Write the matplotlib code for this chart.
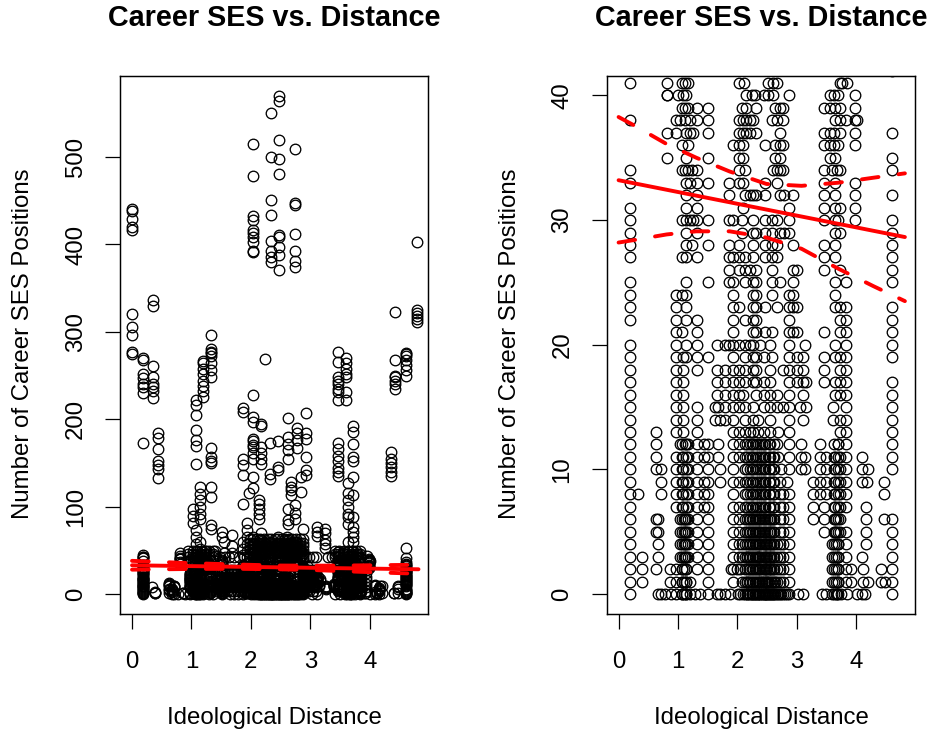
import matplotlib
matplotlib.use("Agg")
import matplotlib.pyplot as plt

plt.rcParams['font.family'] = ['Liberation Sans', 'DejaVu Sans']

# x positions of the points at each integer career-position count (y = 0 ... 41)
row_y = list(range(42))
x_y00 = [.19,.67,.71,.78,.89,.97,1.06,1.14,1.20,1.29,1.37,1.51,1.65,1.71,1.79,1.87,2.01,2.05,2.10,2.13,2.17,2.21,2.24,2.27,2.30,2.32,2.35,2.38,2.41,2.44,2.47,2.49,2.52,2.55,2.58,2.60,2.63,2.66,2.69,2.72,2.74,2.77,2.80,2.83,2.87,3.02,3.11,3.42,3.50,3.59,3.67,3.75,3.84,4.01,4.09,4.15,4.61]
x_y01 = [.19,.39,.86,.97,1.06,1.14,1.20,1.51,1.93,2.08,2.13,2.17,2.21,2.27,2.32,2.38,2.41,2.44,2.49,2.52,2.58,2.63,2.66,2.72,2.77,2.87,3.60,3.70,3.83,3.92,4.12,4.20,4.41,4.48,4.61]
x_y02 = [.19,.39,.63,.86,.97,1.06,1.14,1.32,1.51,1.90,1.93,1.99,2.05,2.13,2.21,2.27,2.32,2.38,2.44,2.49,2.55,2.60,2.66,2.72,2.77,2.87,3.60,3.70,3.83,3.92,4.12,4.41,4.61]
x_y03 = [.19,.39,.67,1.03,1.12,1.17,1.32,1.51,1.93,2.03,2.08,2.13,2.17,2.21,2.27,2.32,2.35,2.38,2.44,2.49,2.55,2.60,2.66,2.72,2.77,2.87,3.60,3.70,3.83,4.09,4.61]
x_y04 = [.19,.67,1.03,1.12,1.17,1.32,1.51,1.93,2.03,2.08,2.13,2.21,2.27,2.32,2.38,2.44,2.49,2.55,2.60,2.66,2.72,2.77,2.87,3.60,3.70,3.83,4.16,4.61]
x_y05 = [.19,.63,.67,1.03,1.12,1.17,1.32,1.51,1.93,2.03,2.13,2.21,2.27,2.32,2.38,2.44,2.55,2.60,2.72,2.77,2.87,3.46,3.64,3.73,3.83,4.16,4.61]
x_y06 = [.19,.63,.67,1.03,1.12,1.17,1.32,1.51,1.93,2.03,2.13,2.21,2.27,2.32,2.38,2.44,2.55,2.60,2.72,2.77,2.87,3.27,3.46,3.64,3.73,4.16,4.47,4.61]
x_y07 = [.19,.97,1.09,1.17,1.32,1.43,1.51,1.93,2.03,2.13,2.21,2.27,2.32,2.38,2.44,2.55,2.60,2.72,2.77,2.87,3.27,3.46,3.64,3.73,3.83,4.16]
x_y08 = [.19,.33,.71,.97,1.09,1.17,1.32,1.43,1.51,1.93,2.13,2.21,2.27,2.32,2.38,2.44,2.55,2.60,2.72,2.77,2.87,3.27,3.39,3.50,3.64,3.73,3.83,4.47]
x_y09 = [.19,.71,.97,1.09,1.17,1.32,1.43,1.51,1.71,1.93,2.03,2.13,2.21,2.27,2.32,2.38,2.44,2.55,2.60,2.72,2.83,3.27,3.39,3.50,3.64,3.73,3.83,4.09,4.18,4.47]
x_y10 = [.19,.63,.71,.97,1.09,1.17,1.32,1.51,1.71,1.93,2.13,2.21,2.27,2.32,2.38,2.44,2.55,2.60,2.74,2.87,3.07,3.14,3.39,3.50,3.64,3.73,3.83,4.09,4.20,4.61]
x_y11 = [.19,.63,.97,1.09,1.17,1.32,1.43,1.51,1.68,1.93,2.03,2.13,2.21,2.27,2.32,2.38,2.44,2.55,2.60,2.69,2.87,3.07,3.14,3.39,3.50,3.64,3.73,3.83,4.09,4.61]
x_y12 = [.19,.63,1.03,1.12,1.17,1.32,1.43,1.51,1.68,1.93,2.03,2.13,2.21,2.27,2.32,2.38,2.44,2.55,2.66,2.87,3.07,3.39,3.70,3.83,4.61]
x_y13 = [.19,.63,.97,1.09,1.32,1.93,2.03,2.13,2.21,2.27,2.35,2.44,2.55,2.69,2.87,3.73,3.83,4.61]
x_y14 = [.19,.97,1.09,1.32,1.62,1.71,1.79,1.93,2.13,2.27,2.35,2.55,2.87,3.11,3.61,3.73,3.83,4.61]
x_y15 = [.19,.97,1.09,1.32,1.62,1.68,1.79,1.93,2.03,2.13,2.27,2.44,2.55,2.66,2.77,2.87,3.05,3.16,3.61,3.83,4.61]
x_y16 = [.19,.97,1.09,1.65,1.79,1.93,2.03,2.10,2.32,2.44,2.55,2.66,2.87,3.11,3.64,3.73,3.83,4.61]
x_y17 = [.19,.97,1.09,1.65,1.79,1.93,2.03,2.13,2.27,2.32,2.44,2.55,2.87,3.01,3.11,3.16,3.46,3.64,3.73,3.83,4.61]
x_y18 = [.19,.97,1.09,1.32,1.65,1.79,1.93,2.03,2.13,2.27,2.32,2.55,2.77,2.87,3.01,3.11,3.46,3.72,3.83]
x_y19 = [.19,.97,1.09,1.14,1.32,1.51,1.93,2.13,2.27,2.32,2.44,2.58,2.87,3.01,3.11,3.46,3.64,3.73,3.83,4.61]
x_y20 = [.19,.97,1.14,1.32,1.65,1.79,1.86,1.93,2.03,2.13,2.21,2.27,2.38,2.55,2.87,3.13,3.64,3.83,4.61]
x_y21 = [.97,1.06,1.32,1.93,2.27,2.32,2.47,2.58,2.87,2.94,3.01,3.46,3.72,3.83,4.61]
x_y22 = [.19,.97,1.14,1.32,1.93,2.13,2.27,2.32,2.87,3.72,3.83,4.61]
x_y23 = [.19,.97,1.14,1.93,2.03,2.27,2.32,2.47,2.66,2.87,2.94,3.01,3.64,3.72,3.83,4.61]
x_y24 = [.19,.97,1.06,1.14,1.93,2.27,2.32,2.58,2.87,2.94,3.64]
x_y25 = [.19,1.14,1.51,1.86,1.93,2.13,2.27,2.32,2.58,2.72,2.94,3.64,3.83,4.61]
x_y26 = [1.86,2.03,2.13,2.21,2.32,2.58,2.94,3.01,3.46,3.72,4.61]
x_y27 = [.19,1.06,1.14,1.32,1.86,1.93,2.03,2.13,2.27,2.47,2.58,2.66,3.46,3.64,4.61]
x_y28 = [.19,1.14,1.23,1.51,1.86,2.03,2.27,2.47,2.58,2.66,2.94,3.46,3.64,4.61]
x_y29 = [.19,1.14,1.32,2.08,2.27,2.31,2.47,2.58,2.72,2.79,2.87,3.64,3.73,4.61]
x_y30 = [.19,1.06,1.14,1.20,1.26,1.32,1.51,1.86,1.93,2.08,2.27,2.47,2.58,2.66,2.87,3.46,3.64,3.70,3.98,4.61]
x_y31 = [.19,1.14,1.32,2.10,2.87,3.46,3.64,3.73,3.98]
x_y32 = [1.14,1.32,1.86,2.13,2.21,2.27,2.32,2.47,2.72,2.79,2.94,3.46,3.64,3.98,4.61]
x_y33 = [.19,1.14,1.20,1.32,1.51,1.86,2.03,2.10,2.47,2.66,3.46,3.64,3.98]
x_y34 = [.19,1.06,1.12,1.17,1.23,1.32,2.03,2.13,2.60,2.66,2.72,2.77,3.46,3.59,3.67,3.73,4.61]
x_y35 = [.81,1.14,1.51,2.03,2.10,2.64,2.72,3.56,3.64,4.61]
x_y36 = [1.06,1.17,1.93,2.03,2.10,2.47,2.63,2.72,2.77,3.46,3.56,3.63,3.70,3.98]
x_y37 = [.81,.97,1.14,1.20,1.26,1.51,2.03,2.10,2.15,2.21,2.32,2.72,3.46,3.56,3.63,3.73,3.98,4.61]
x_y38 = [.19,.97,1.03,1.12,1.20,1.32,1.51,2.03,2.10,2.15,2.21,2.27,2.58,2.66,2.76,3.64,3.73,3.83,3.98,4.01]
x_y39 = [1.06,1.12,1.17,1.32,1.51,2.08,2.15,2.32,2.63,2.72,2.77,3.46,3.56,3.64,3.73,3.98]
x_y40 = [.81,.81,1.0,1.09,1.14,2.15,2.24,2.30,2.44,2.52,2.60,2.87,3.56,3.63,3.70,3.98]
x_y41 = [.19,.81,1.06,1.12,1.17,2.03,2.11,2.52,2.60,2.66,3.72,3.76,3.84]
row_x = [x_y00,x_y01,x_y02,x_y03,x_y04,x_y05,x_y06,x_y07,x_y08,x_y09,x_y10,x_y11,x_y12,x_y13,
         x_y14,x_y15,x_y16,x_y17,x_y18,x_y19,x_y20,x_y21,x_y22,x_y23,x_y24,x_y25,x_y26,x_y27,
         x_y28,x_y29,x_y30,x_y31,x_y32,x_y33,x_y34,x_y35,x_y36,x_y37,x_y38,x_y39,x_y40,x_y41]

# heavily overplotted low counts in the crowded columns
crowd_x = [1.07,1.13,2.16,2.24,2.34,2.41,2.46,2.53,2.62,3.62,3.70]
crowd_y = [0,1,2,3,4,5,6,7,8,9,10,11,12]
crowd_low_x = [1.10,2.19,2.29,2.36,2.50,2.57,3.66]
crowd_low_y = [0,1,2,3,4,5,6]

# crowded counts above the range of the right-hand panel
mid_x = [1.98,2.04,2.10,2.16,2.22,2.28,2.34,2.40,2.46,2.52,2.58,2.64,2.70,2.76,2.82,2.88]
mid_y = [43,47,51,55,59,63]
side_x = [.95,1.02,1.09,1.16,1.23,1.30,1.37,3.42,3.49,3.56,3.63,3.70,3.77,3.84]
side_y = [43,46,50]
span_x = [1.48,1.56,1.64,1.72,1.80,1.88,1.94,2.92,2.98,3.04,3.10,3.30,3.36]
span_y = [43]

# counts in the solid black mass of the left-hand panel
mass_x = [1.42,1.48,1.54,1.60,1.66,1.72,1.78,1.84,1.90,2.92,2.98,3.04,3.10,3.46,3.54,3.62,3.70,3.78,3.86,3.94]
mass_y = [4,8,12,16,20,24,28]

# columns of points above the range of the right-hand panel
high_x = [0.0,.19,.36,.44,1.03,1.08,1.14,1.19,1.33,1.51,1.54,1.68,1.87,1.93,1.96,2.03,2.04,2.13,2.17,
          2.24,2.32,2.33,2.46,2.47,2.63,2.67,2.74,2.75,2.77,2.85,2.88,2.93,3.12,3.25,3.47,3.60,3.64,3.72,
          4.35,4.43,4.61,4.80,.19,.81,1.25,1.40,2.55,2.60,3.55,3.80,3.95]
high_y = [
 [441,438,429,420,417,321,306,296,277,275],
 [270,268,252,247,241,237,230,173,45,43],
 [336,330,261,249,241,237,233,225],
 [184,179,166,153,148,143,133],
 [97,90,82],
 [222,216,205,188,176,170,149,73,66,58,50,45],
 [123,115,108,100,92,86,60,52,44],
 [267,264,258,252,244,238,233,226,48,43],
 [296,281,276,277,272,264,256,249,167,157,153,150,123,111,79,75],
 [71,65],
 [60,47],
 [68,55,47],
 [213,209,155,148,136,103,60,52,45],
 [81,74,66,58,50],
 [116],
 [228,203,197,178,175,171,168,162,155,134,121,65,58,52,46],
 [515,478,433,428,417,413,408,403,393,391],
 [108,103,98,92,86,62,54,46],
 [195,192,169,162,155,149,70,62,55,47],
 [269,58,50],
 [173,138,132,60,52,44],
 [550,500,451,434,404,393,386,380],
 [175,146,142,65,57,49],
 [570,564,520,498,481,411,408,397,388,371],
 [202,180,172,165,155,97,85,80,62,54,46],
 [129,123,119,113,56,48],
 [102,93,86,60,50,44],
 [509,447,445,412,392,381,374],
 [190,184,177,167,60,52,46],
 [134,117,50,44],
 [75,45],
 [207,184,178,157,142,136],
 [77,71,67],
 [75,70,62,58,53],
 [277,266,248,244,240,235,231,222,173,166,158,152,145,140,135,48,44],
 [270,264,258,252,248,231,222,46],
 [127,116,108,100,92,88,80,60,50,44],
 [192,186,172,157,153,134,113,88,77,71,65,60,50,44],
 [163,155,150,146,140,135],
 [323,268,250,248,244,240,235],
 [276,272,275,268,262,256,250,53,42],
 [403,325,322,318,315,311],
 [43],
 [47,44],
 [50,46,43],
 [49,44],
 [62,56,50],
 [66,58,50,44],
 [47,43],
 [46,43],
 [44],
]

line_x = [0.0,.26,.81,1.31,1.87,2.49,3.08,3.70,4.29,4.82]
fit_line_x = [0.0,4.82]
fit_line_y = [33.2,28.64]
upper = [38.27,37.6,36.1,35.0,33.9,32.9,32.75,33.0,33.4,33.75]
lower = [28.2,28.4,28.85,29.1,29.1,28.6,27.7,26.1,24.7,23.5]

W, H = 928, 731
DPI = 100
RED = "#ff0000"
FS = 17.3

def panel(box, xlim, ylim, yticks, left_only=False):
    l, t, r, b = box
    ax = fig.add_axes([l / W, 1 - b / H, (r - l) / W, (b - t) / H])
    ax.set_xlim(xlim)
    ax.set_ylim(ylim)
    ax.set_xticks([0, 1, 2, 3, 4])
    ax.set_yticks(yticks)
    ax.tick_params(length=10.5, width=0.9, labelsize=FS)
    ax.tick_params(axis='x', pad=16)
    ax.tick_params(axis='y', pad=13.5)
    for lab in ax.get_yticklabels():
        lab.set_rotation(90)
        lab.set_va('center')
    for s in ax.spines.values():
        s.set_linewidth(1.05)
    style = dict(ls='none', marker='o', ms=7.6, mfc='none', mec='black', mew=0.95)
    for y, xs in zip(row_y, row_x):
        ax.plot(xs, [y] * len(xs), **style)
    groups = [(crowd_x, crowd_y), (crowd_low_x, crowd_low_y), (mid_x, mid_y),
              (side_x, side_y), (span_x, span_y)]
    if left_only:
        groups.append((mass_x, mass_y))
    for xs, ys in groups:
        for y in ys:
            ax.plot(xs, [y] * len(xs), **style)
    for x, ys in zip(high_x, high_y):
        ax.plot([x] * len(ys), ys, **style)
    ax.plot(fit_line_x, fit_line_y, color=RED, lw=2.8, solid_capstyle='round', zorder=5)
    for band in (upper, lower):
        ax.plot(line_x, band, color=RED, lw=2.8, dashes=(4.3, 5.2),
                dash_capstyle='round', zorder=5)
    return ax

fig = plt.figure(figsize=(W / DPI, H / DPI), dpi=DPI)

panel((120.5, 75.7, 428, 614), (-0.194, 4.98), (-22.5, 593), [0, 100, 200, 300, 400, 500], left_only=True)
panel((606.7, 76, 915, 614), (-0.2, 4.99), (-1.6, 41.56), [0, 10, 20, 30, 40])

for cx, tx in ((274.5, 23), (761, 509.5)):
    fig.text(cx / W, 1 - 17.5 / H, "Career SES vs. Distance", ha='center', va='center',
             fontsize=20.7, fontweight='bold')
    fig.text(cx / W, 1 - 718 / H, "Ideological Distance", ha='center', va='center', fontsize=FS)
    fig.text(tx / W, 1 - 344 / H, "Number of Career SES Positions", ha='center', va='center',
             rotation=90, fontsize=FS)

fig.savefig("out.png", dpi=DPI)
